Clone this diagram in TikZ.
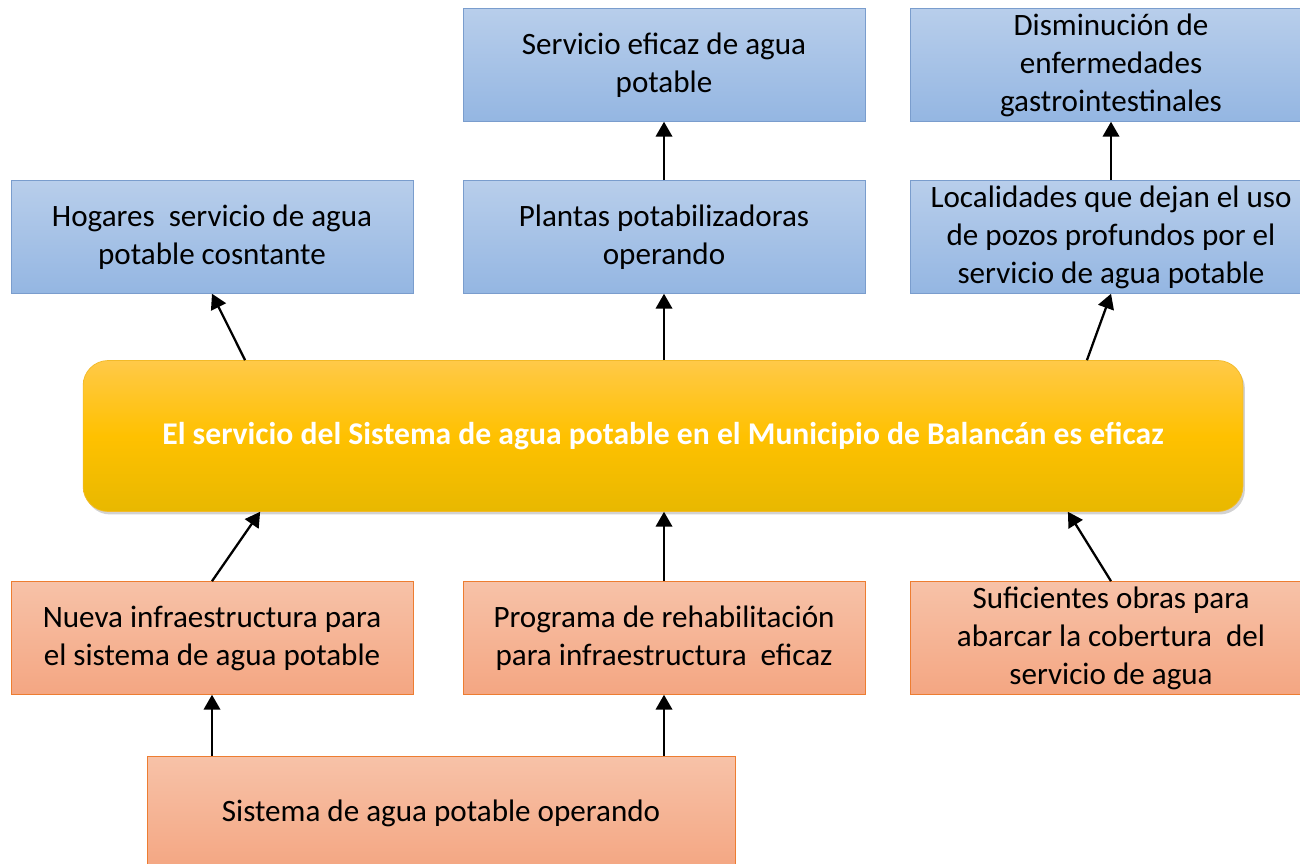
\documentclass[tikz,border=0pt]{standalone}
\usepackage{fontspec}
\setmainfont{Carlito}
\usepackage{tikz}
\usetikzlibrary{arrows,shapes,positioning,shadows}

\definecolor{bluetop}{RGB}{184,206,235}
\definecolor{bluebot}{RGB}{148,182,226}
\definecolor{blueline}{RGB}{122,157,205}
\definecolor{orgtop}{RGB}{247,194,168}
\definecolor{orgbot}{RGB}{244,166,130}
\definecolor{orgline}{RGB}{237,125,49}
\definecolor{yeltop}{RGB}{255,201,72}
\definecolor{yelmid}{RGB}{255,193,0}
\definecolor{yelbot}{RGB}{232,184,0}
\definecolor{yelline}{RGB}{242,186,40}

\tikzset{
  fin/.style={draw=blueline, top color=bluetop, bottom color=bluebot,
    minimum width=8.04cm, minimum height=2.26cm, align=center,
    font=\fontsize{17.7}{21.6}\selectfont, inner sep=2pt},
  medio/.style={draw=orgline, top color=orgtop, bottom color=orgbot,
    minimum width=8.04cm, minimum height=2.26cm, align=center,
    font=\fontsize{17.7}{21.6}\selectfont, inner sep=2pt},
  proposito/.style={draw=yelline, top color=yeltop, bottom color=yelbot,
    middle color=yelmid, rounded corners=0.5cm,
    minimum width=23.2cm, minimum height=3.02cm,
    drop shadow={shadow xshift=0.04cm, shadow yshift=-0.06cm, opacity=0.35},
    text=white, font=\fontsize{18}{21.6}\selectfont\bfseries}
}

\begin{document}
\begin{tikzpicture}[x=0.02cm,y=-0.02cm]
    \clip (0,0) rectangle (1300,864);
    \fill[white] (0,0) rectangle (1300,864);

    %the ends
    \node[fin] (efi) at (664,65) {Servicio eficaz de agua\\potable};
    \node[fin] (dis) at (1111,65) {Disminución de\\enfermedades\\gastrointestinales};
    \node[fin] (hog) at (212,237) {Hogares \ servicio de agua\\potable cosntante};
    \node[fin] (pla) at (664,237) {Plantas potabilizadoras\\operando};
    \node[fin] (loc) at (1111,237) {Localidades que dejan el uso\\de pozos profundos por el\\servicio de agua potable};

    %the purpose
    \node[proposito] (c) at (663,436) {El servicio del Sistema de agua potable en el Municipio de Balancán es eficaz};

    %the means
    \node[medio] (nue) at (212,638) {Nueva infraestructura para\\el sistema de agua potable};
    \node[medio] (pro) at (664,638) {Programa de rehabilitación\\para infraestructura \ eficaz};
    \node[medio] (suf) at (1111,638) {Suficientes obras para\\abarcar la cobertura \ del\\servicio de agua};
    \node[medio, minimum width=11.76cm, minimum height=2.28cm] (sis) at (441,813) {Sistema de agua potable operando};

    %the arrows
    \begin{scope}[every path/.style={-triangle 60, line width=1.3pt}]
       \draw ([xshift=-8.36cm]c.north) -- (hog.south);
       \draw (c.north -| pla) -- (pla.south);
       \draw ([xshift=8.48cm]c.north) -- (loc.south);
       \draw (pla.north) -- (efi.south);
       \draw (loc.north) -- (dis.south);
       \draw (nue.north) -- ([xshift=-8.06cm]c.south);
       \draw (pro.north) -- (c.south -| pro);
       \draw (suf.north) -- ([xshift=8.1cm]c.south);
       \draw (sis.north -| nue) -- (nue.south);
       \draw (sis.north -| pro) -- (pro.south);
    \end{scope}
\end{tikzpicture}
\end{document}
